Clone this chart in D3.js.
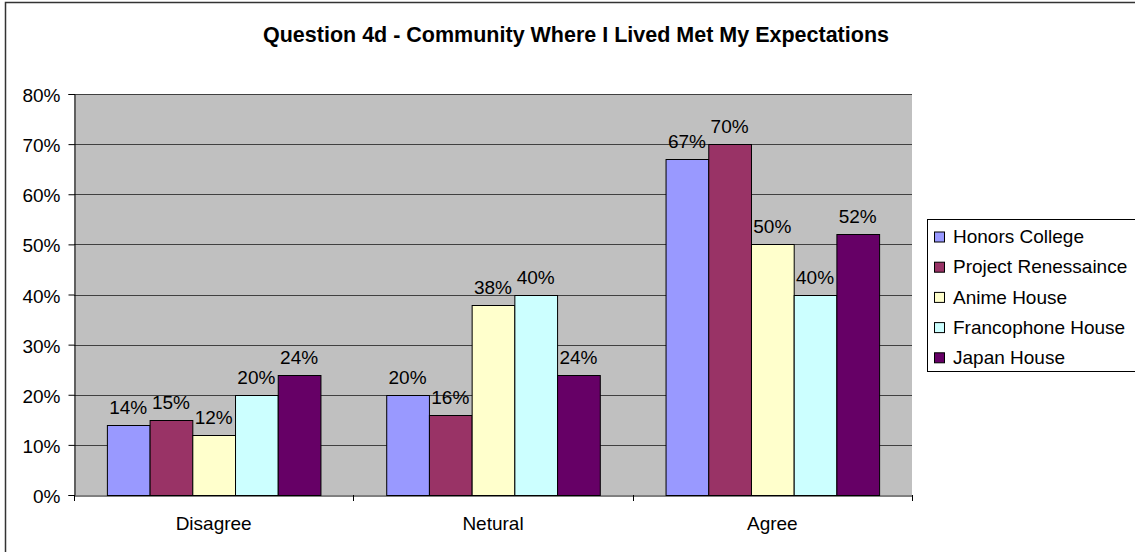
<!DOCTYPE html>
<html><head><meta charset="utf-8">
<script src="https://cdn.jsdelivr.net/npm/d3@7"></script>
<style>
html,body{margin:0;padding:0;background:#fff;overflow:hidden;}
svg{display:block;font-family:"Liberation Sans",Arial,sans-serif;}
</style></head>
<body>
<svg id="chart" width="1135" height="552"></svg>
<script>
const title = "Question 4d - Community Where I Lived Met My Expectations";
const categories = ["Disagree", "Netural", "Agree"];
const seriesNames = ["Honors College", "Project Renessaince", "Anime House", "Francophone House", "Japan House"];
const seriesColors = ["#9999FF", "#993366", "#FFFFCC", "#CCFFFF", "#660066"];
const honorsCollege = [0.14, 0.20, 0.67];
const projectRenessaince = [0.15, 0.16, 0.70];
const animeHouse = [0.12, 0.38, 0.50];
const francophoneHouse = [0.20, 0.40, 0.40];
const japanHouse = [0.24, 0.24, 0.52];
const yTicks = [0, 0.1, 0.2, 0.3, 0.4, 0.5, 0.6, 0.7, 0.8];

const seriesValues = [honorsCollege, projectRenessaince, animeHouse, francophoneHouse, japanHouse];

const svg = d3.select("#chart");
const plot = {left: 74, right: 912, top: 94, bottom: 495};

// outer frame
svg.append("rect").attr("x", 5.5).attr("y", 2.5).attr("width", 1200).attr("height", 600)
  .attr("fill", "#fff").attr("stroke", "#333").attr("stroke-width", 1.5);

// title
svg.append("text").attr("x", 576).attr("y", 42).attr("text-anchor", "middle")
  .attr("font-weight", "bold").attr("font-size", 21.5).attr("fill", "#000").text(title);

const x0 = d3.scaleBand().domain(categories).range([plot.left, plot.right]).paddingInner(0).paddingOuter(0);
const x1 = d3.scaleBand().domain(seriesNames).range([0, x0.bandwidth()]).paddingInner(0).paddingOuter(0.77);
const y = d3.scaleLinear().domain([0, 0.8]).range([plot.bottom, plot.top]);
const fmt = d3.format(".0%");

// plot background
svg.append("rect").attr("x", plot.left).attr("y", plot.top)
  .attr("width", plot.right - plot.left).attr("height", plot.bottom - plot.top).attr("fill", "#C0C0C0");

// gridlines
svg.append("g").selectAll("line").data(yTicks.filter(d => d > 0)).join("line")
  .attr("x1", plot.left).attr("x2", plot.right)
  .attr("y1", d => Math.round(y(d)) + 0.5).attr("y2", d => Math.round(y(d)) + 0.5)
  .attr("stroke", "#404040").attr("stroke-width", 1);

// y axis
const yAxis = d3.axisLeft(y).tickValues(yTicks).tickFormat(fmt).tickSize(6).tickPadding(8);
const gy = svg.append("g").attr("transform", `translate(${plot.left + 0.5},0)`).call(yAxis);
gy.select(".domain").attr("stroke", "#000");
gy.selectAll(".tick line").attr("stroke", "#000");
gy.selectAll(".tick text").attr("font-size", 19).attr("font-family", "Liberation Sans, Arial, sans-serif").attr("fill", "#000").attr("dy", "0.4em");

// bars
const groups = svg.append("g").selectAll("g").data(categories).join("g")
  .attr("transform", d => `translate(${x0(d)},0)`);
groups.selectAll("rect").data((c, ci) => seriesNames.map((s, si) => ({s, si, v: seriesValues[si][ci]})))
  .join("rect")
  .attr("x", d => x1(d.s) + 0.5).attr("y", d => Math.round(y(d.v)) + 0.5)
  .attr("width", x1.bandwidth()).attr("height", d => plot.bottom - Math.round(y(d.v)))
  .attr("fill", d => seriesColors[d.si]).attr("stroke", "#000").attr("stroke-width", 1);
groups.selectAll("text").data((c, ci) => seriesNames.map((s, si) => ({s, si, v: seriesValues[si][ci]})))
  .join("text")
  .attr("x", d => x1(d.s) + x1.bandwidth() / 2).attr("y", d => y(d.v) - 11)
  .attr("text-anchor", "middle").attr("font-size", 19).attr("fill", "#000")
  .text(d => fmt(d.v));

// x axis
const xAxis = d3.axisBottom(x0).tickSize(0).tickPadding(21);
const gx = svg.append("g").attr("transform", `translate(0,${plot.bottom + 0.5})`).call(xAxis);
gx.select(".domain").attr("stroke", "#000");
gx.selectAll(".tick text").attr("font-size", 19).attr("font-family", "Liberation Sans, Arial, sans-serif").attr("fill", "#000");
// category separator ticks
const sepPos = categories.map(c => x0(c)).concat([plot.right]);
svg.append("g").selectAll("line").data(sepPos).join("line")
  .attr("x1", d => Math.round(d) + 0.5).attr("x2", d => Math.round(d) + 0.5)
  .attr("y1", plot.bottom).attr("y2", plot.bottom + 6).attr("stroke", "#000");

// legend
const legend = svg.append("g");
legend.append("rect").attr("x", 927.5).attr("y", 219.5).attr("width", 300).attr("height", 152)
  .attr("fill", "#fff").attr("stroke", "#000");
const items = legend.selectAll("g.item").data(seriesNames).join("g").attr("class", "item")
  .attr("transform", (d, i) => `translate(0,${236.5 + i * 30.2})`);
items.append("rect").attr("x", 934.5).attr("y", -4.5).attr("width", 10).attr("height", 10)
  .attr("fill", (d, i) => seriesColors[i]).attr("stroke", "#000");
items.append("text").attr("x", 953).attr("y", 0).attr("dy", "0.35em").attr("font-size", 19).attr("fill", "#000").text(d => d);
</script>
</body></html>
